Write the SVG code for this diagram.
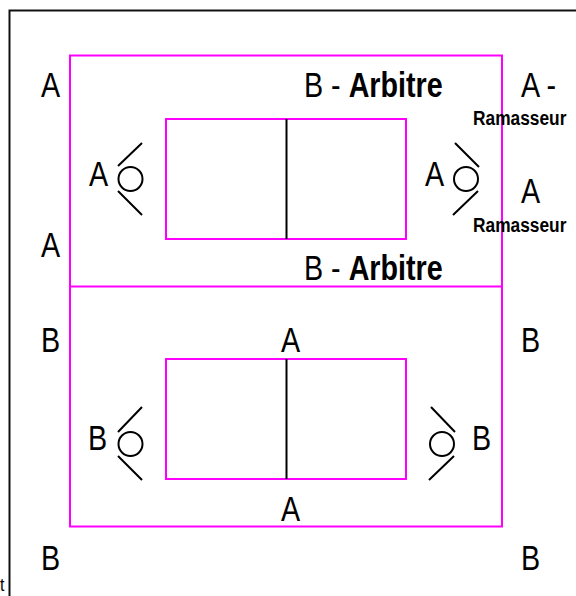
<svg xmlns="http://www.w3.org/2000/svg" width="576" height="596" viewBox="0 0 576 596">
<style>
.bg{fill:#fff}
.m{fill:none;stroke:#f0f;stroke-width:2}
.k{fill:none;stroke:#000;stroke-width:2}
.f{fill:none;stroke:#111;stroke-width:2}
text{font-family:"Liberation Sans",Arial,sans-serif;fill:#000}
.t{font-size:35px}
.b{font-weight:bold}
.r{font-size:21px;font-weight:bold}
.s{font-size:18px}
</style>
<rect class="bg" width="576" height="596"/>
<path id="frame" class="f" d="M9.500 596V10.500H576"/>
<g id="courts">
<rect class="m" x="70" y="55.500" width="432" height="471"/>
<path class="m" d="M70 286.500H502"/>
<rect class="m" x="166" y="119" width="240" height="120"/>
<rect class="m" x="166" y="359" width="240" height="120"/>
</g>
<g id="connectors">
<path class="k" d="M286.500 119V239M286.500 359V479"/>
</g>
<g id="player-a-left">
<circle class="k" cx="130.500" cy="179" r="12"/>
<path class="k" d="M118 166L142 143M118 191L142 215"/>
<text class="t" transform="translate(89 186) scale(.82 1)">A</text>
</g>
<g id="player-a-right">
<circle class="k" cx="466" cy="179" r="12"/>
<path class="k" d="M455 143L479 167M478 191L453 215"/>
<text class="t" transform="translate(425 186) scale(.82 1)">A</text>
</g>
<g id="player-b-left">
<circle class="k" cx="130.500" cy="444" r="12"/>
<path class="k" d="M118 432L142 407M118 456L142 480"/>
<text class="t" transform="translate(88 450) scale(.82 1)">B</text>
</g>
<g id="player-b-right">
<circle class="k" cx="442" cy="444" r="12"/>
<path class="k" d="M431 407L455 432M454 456L429 480"/>
<text class="t" transform="translate(472 450) scale(.82 1)">B</text>
</g>
<g id="labels">
<text class="t" transform="translate(41 97) scale(.82 1)">A</text>
<text class="t" transform="translate(41 257) scale(.82 1)">A</text>
<text class="t" transform="translate(41 352) scale(.82 1)">B</text>
<text class="t" transform="translate(41 570) scale(.82 1)">B</text>
<text class="t" transform="translate(521 352) scale(.82 1)">B</text>
<text class="t" transform="translate(521 570) scale(.82 1)">B</text>
<text class="t" transform="translate(281 352) scale(.82 1)">A</text>
<text class="t" transform="translate(281 521) scale(.82 1)">A</text>
<text class="t" transform="translate(304 97) scale(.82 1)">B - <tspan class="b">Arbitre</tspan></text>
<text class="t" transform="translate(304 280) scale(.82 1)">B - <tspan class="b">Arbitre</tspan></text>
<text class="t" transform="translate(521 97) scale(.82 1)">A -</text>
<text class="t" transform="translate(521 203) scale(.82 1)">A</text>
<text class="r" transform="translate(473 125) scale(.825 1)">Ramasseur</text>
<text class="r" transform="translate(473 232) scale(.825 1)">Ramasseur</text>
<text class="s" transform="translate(0 591) scale(.875 1)">t</text>
</g>
</svg>
